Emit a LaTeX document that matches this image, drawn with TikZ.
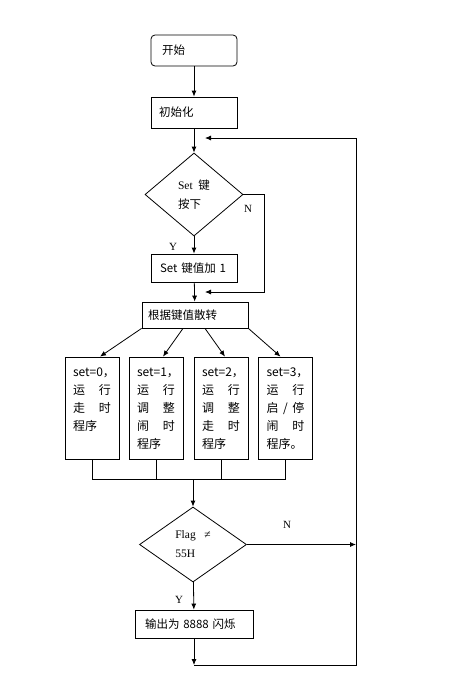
\documentclass[tikz,border=0pt]{standalone}
\usepackage{fontspec}
\setmainfont{Liberation Serif}
\newfontfamily\cjk{Noto Sans CJK SC}
\usetikzlibrary{shapes.geometric,arrows.meta}
\newcommand{\cn}{\fontsize{11.5}{18}\selectfont\cjk}
\tikzset{
  blk/.style={draw,rectangle,align=left,font=\cn},
  term/.style={blk,rounded corners=4pt},
  cond/.style={draw,diamond,inner sep=0pt,align=left,font=\fontsize{11.5}{19}\selectfont},
  prog/.style={blk,minimum height=102pt,text width=38pt,inner xsep=8pt,text height=10pt,text depth=74pt,font=\fontsize{12}{18}\selectfont\cjk},
  yn/.style={font=\fontsize{11}{13}\selectfont}
}

\begin{document}
\begin{tikzpicture}[x=1pt,y=-1pt,line width=0.8pt,>={Latex[length=6pt,width=5pt]}]
      \useasboundingbox (0,0) rectangle (454,697);
      \node[term,minimum height=31pt,text width=64pt,inner xsep=11pt] (start) at (194,50.5) {开始};
      \node[blk,minimum height=31pt,text width=70pt,inner xsep=8pt] (init) at (194,112.5) {初始化};
      \node[cond,minimum width=98pt,minimum height=83pt] (ask) at (194,194.5) {Set\ \ {\cjk 键}\\{\cjk 按下}};
      \node[blk,minimum height=28pt,text width=68pt,inner xsep=9pt] (add) at (194,268) {Set 键值加 1};
      \node[blk,minimum height=26pt,text width=94pt,inner xsep=6pt] (jump) at (195,315) {根据键值散转};
      \node[prog] (b0) at (92,408) {set=0，\\运\hspace{14pt}行\\走\hspace{14pt}时\\程序};
      \node[prog] (b1) at (156,408) {set=1，\\运\hspace{14pt}行\\调\hspace{14pt}整\\闹\hspace{14pt}时\\程序};
      \node[prog] (b2) at (221,408) {set=2，\\运\hspace{14pt}行\\调\hspace{14pt}整\\走\hspace{14pt}时\\程序};
      \node[prog] (b3) at (285.5,408) {set=3，\\运\hspace{14pt}行\\启\makebox[14pt]{/}停\\闹\hspace{14pt}时\\程序。};
      \node[cond,minimum width=107pt,minimum height=75pt] (flag) at (193,544.5) {Flag\ \ \ ≠\\55H};
      \node[blk,minimum height=28pt,text width=98pt,inner xsep=10pt] (out) at (194,624) {输出为 8888 闪烁};
      \node[yn] (y1) at (173,247) {Y};
      \node[yn] (n1) at (248,209) {N};
      \node[yn] (n2) at (287,525) {N};
      \node[yn] (y2) at (179,600) {Y};
      \coordinate (merge) at (193,479);
      \coordinate (nb) at (264,292);
      \coordinate (nin) at (205,292);
      \coordinate (rb) at (356,665);
      \coordinate (rt) at (356,138);
      \coordinate (back) at (205,138);
      \coordinate (bl) at (out.south |- rb);
      \draw[->] (start) -- (init);
      \draw[->] (init) -- (ask);
      \draw[->] (ask) -- (add);
      \draw[->] (add) -- (jump);
      \draw[->] (ask.east) -| (nb) -- (nin);
      \draw[->] (jump.south west) -- ([xshift=8pt]b0.north);
      \draw[->] ([xshift=-12pt]jump.south) -- ([xshift=7pt]b1.north);
      \draw[->] ([xshift=10pt]jump.south) -- ([xshift=4pt]b2.north);
      \draw[->] (jump.south east) -- ([xshift=-5pt]b3.north);
      \draw (b0.south) -- (b0.south |- merge) -- (b3.south |- merge) -- (b3.south);
      \draw (b1.south) -- (b1.south |- merge);
      \draw (b2.south) -- (b2.south |- merge);
      \draw[->] (merge) -- (flag.north);
      \draw[->] (flag.east) -- (flag.east -| rb);
      \draw[->] (flag) -- (out);
      \draw[->] (out.south) -- (bl);
      \draw (bl) -- (rb) -- (rt);
      \draw[->] (rt) -- (back);
\end{tikzpicture}
\end{document}
